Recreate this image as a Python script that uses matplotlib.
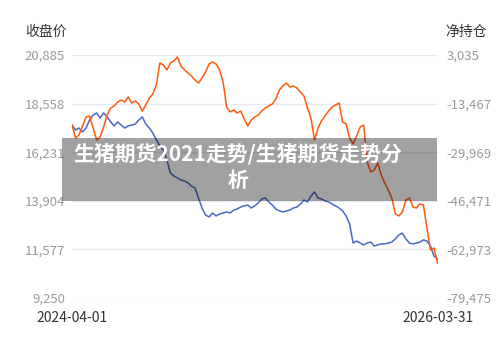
import matplotlib
matplotlib.use("Agg")
import matplotlib.pyplot as plt
import pandas as pd
from matplotlib.patches import Rectangle

plt.rcParams['font.family'] = ['Noto Sans CJK SC', 'DejaVu Sans']

dates = pd.date_range("2024-04-01", periods=105, freq="7D")

close = [17530, 17290, 17390, 17200, 17390, 17770, 18010, 18110, 17870, 18110,
         17920, 17680, 17490, 17680, 17530, 17390, 17490, 17530, 17580, 17770,
         17920, 17580, 17390, 17150, 16820, 16530, 16340, 15860, 15240, 15090,
         15000, 14900, 14850, 14760, 14610, 14520, 14040, 13560, 13220, 13130,
         13320, 13180, 13270, 13320, 13370, 13320, 13460, 13510, 13610, 13660,
         13700, 13560, 13660, 13800, 13990, 14040, 13850, 13700, 13510, 13420,
         13370, 13420, 13460, 13560, 13610, 13750, 13940, 13850, 14130, 14330,
         14040, 13990, 13900, 13850, 13750, 13660, 13560, 13420, 13180, 12790,
         11880, 11980, 11880, 11790, 11880, 11930, 11740, 11790, 11840, 11840,
         11880, 11930, 12080, 12270, 12360, 12080, 11880, 11840, 11880, 11930,
         12030, 11980, 11740, 11260, 11120]

net_pos = [-20730, -25140, -24130, -21070, -18010, -17680, -21750, -25820, -24800, -21410,
           -17340, -14960, -14280, -12920, -12240, -12920, -11220, -13260, -12580, -13600,
           -15980, -13940, -11560, -10210, -7150, 320, -360, -2060, 320, 1000,
           2360, -700, -2060, -3080, -4090, -5450, -6470, -4770, -2740, -20,
           660, -20, -2060, -6130, -14620, -16320, -15640, -16660, -15980, -18690,
           -21070, -19030, -18010, -17340, -15980, -14960, -14280, -13600, -11900, -8850,
           -7490, -6470, -7830, -7490, -8170, -9530, -10880, -14960, -18350, -25820,
           -21750, -19370, -17680, -15980, -14620, -13940, -13260, -19710, -20390, -25140,
           -27180, -24460, -21410, -20730, -33290, -36690, -36010, -33630, -37700, -40420,
           -42800, -45510, -50950, -51620, -50270, -46190, -45510, -48570, -48910, -47550,
           -47890, -55700, -63170, -62490, -67580]

left_ticks = [9250, 11577, 13904, 16231, 18558, 20885]
right_ticks = [-79475, -62973, -46471, -29969, -13467, 3035]
x_labels = ["2024-04-01", "2026-03-31"]

title = "生猪期货2021走势/生猪期货走势分\n析"

fig = plt.figure(figsize=(5, 3.4), dpi=100)
ax = fig.add_axes([72 / 500, 1 - 298 / 340, 366 / 500, 243 / 340])
ax2 = ax.twinx()

ax.plot(dates, close, color="#4a68c6", lw=1.1)
ax2.plot(dates, net_pos, color="#ff5a0a", lw=1.1)

x0, x1 = pd.Timestamp(x_labels[0]), pd.Timestamp(x_labels[1])
ax.set_xlim(x0, x1)
ax.set_ylim(left_ticks[0], left_ticks[-1])
ax2.set_ylim(right_ticks[0], right_ticks[-1])

ax.set_yticks(left_ticks)
ax.set_yticklabels([f"{v:,}" for v in left_ticks])
ax2.set_yticks(right_ticks)
ax2.set_yticklabels([f"{v:,}" for v in right_ticks])
ax.set_xticks([x0, x1])
ax.set_xticklabels(x_labels)

ax.grid(axis="y", color="#e6e9f2", lw=1)
ax.set_axisbelow(True)
for a in (ax, ax2):
    for s in a.spines.values():
        s.set_visible(False)
    a.tick_params(length=0, labelsize=9.5, labelcolor="#999999")
ax.tick_params(axis="y", pad=5)
ax2.tick_params(axis="y", pad=6)
ax.tick_params(axis="x", pad=9, labelsize=10, labelcolor="#333333")

fig.text(67 / 500, 1 - 32 / 340, "收盘价", ha="right", va="center",
         fontsize=10, color="#333333")
fig.text(445 / 500, 1 - 32 / 340, "净持仓", ha="left", va="center",
         fontsize=10, color="#333333")

fig.patches.append(Rectangle((62 / 500, 1 - 201 / 340), 375 / 500, 63 / 340,
                             transform=fig.transFigure, facecolor="black",
                             alpha=0.37, edgecolor="none", zorder=5))
fig.text(238 / 500, 1 - 167 / 340, title, ha="center", va="center",
         multialignment="center", fontsize=15, fontweight="bold",
         color="white", linespacing=1.3, zorder=6)

fig.savefig("out.png", dpi=100)
